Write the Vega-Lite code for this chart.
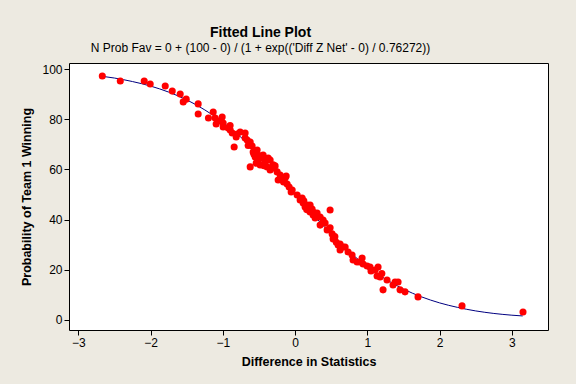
{
  "$schema": "https://vega.github.io/schema/vega-lite/v6.json",
  "width": 479,
  "height": 267,
  "autosize": {"type": "none"},
  "padding": {"left": 69, "top": 63, "right": 28, "bottom": 54},
  "background": "#EDEAE1",
  "title": {
    "text": "Fitted Line Plot",
    "subtitle": "N Prob Fav = 0 + (100 - 0) / (1 + exp(('Diff Z Net' - 0) / 0.76272))",
    "font": "Liberation Sans",
    "fontSize": 14,
    "fontWeight": "bold",
    "color": "#000000",
    "subtitleFont": "Liberation Sans",
    "subtitleFontSize": 12,
    "subtitleColor": "#000000",
    "subtitlePadding": 3,
    "anchor": "middle",
    "frame": "group",
    "dx": -48,
    "offset": 9
  },
  "config": {
    "view": {"fill": "white", "stroke": "black", "strokeWidth": 1},
    "axis": {
      "grid": false,
      "domain": false,
      "tickColor": "black",
      "tickSize": 5,
      "labelFont": "Liberation Sans",
      "labelFontSize": 12,
      "labelColor": "#000000",
      "labelPadding": 2,
      "titleFont": "Liberation Sans",
      "titleFontSize": 12.5,
      "titleFontWeight": "bold",
      "titleColor": "#000000"
    }
  },
  "datasets": {
    "pts": [
      {"x": -2.669, "y": 97.2}, {"x": -2.42, "y": 95.2}, {"x": -2.089, "y": 95.2}, {"x": -2.006, "y": 94.0},
      {"x": -1.798, "y": 93.2}, {"x": -1.701, "y": 91.2}, {"x": -1.591, "y": 90.0}, {"x": -1.508, "y": 88.0},
      {"x": -1.549, "y": 86.9}, {"x": -1.342, "y": 86.1}, {"x": -1.342, "y": 82.1}, {"x": -1.134, "y": 82.9},
      {"x": -1.107, "y": 80.5}, {"x": -1.093, "y": 78.1}, {"x": -1.01, "y": 80.9}, {"x": -0.996, "y": 78.5},
      {"x": -0.996, "y": 76.9}, {"x": -0.899, "y": 75.7}, {"x": -0.871, "y": 74.5}, {"x": -0.844, "y": 68.9},
      {"x": -0.761, "y": 74.9}, {"x": -0.692, "y": 74.5}, {"x": -0.692, "y": 72.5}, {"x": -0.622, "y": 70.9},
      {"x": -0.595, "y": 69.3}, {"x": -0.622, "y": 61.0}, {"x": -0.581, "y": 66.9}, {"x": -0.553, "y": 64.9},
      {"x": -0.512, "y": 63.7}, {"x": -0.484, "y": 61.8}, {"x": -0.415, "y": 62.9}, {"x": -0.387, "y": 61.0},
      {"x": -0.373, "y": 64.5}, {"x": -0.346, "y": 59.8}, {"x": -0.304, "y": 61.8}, {"x": -0.249, "y": 59.0},
      {"x": -0.235, "y": 55.8}, {"x": -0.539, "y": 62.5}, {"x": -0.456, "y": 64.5}, {"x": -0.277, "y": 61.4},
      {"x": -0.18, "y": 55.8}, {"x": -0.138, "y": 56.6}, {"x": -0.111, "y": 54.2}, {"x": -0.083, "y": 53.0},
      {"x": -0.041, "y": 51.8}, {"x": -0.055, "y": 51.0}, {"x": 0.111, "y": 46.6}, {"x": 0.138, "y": 45.0},
      {"x": 0.18, "y": 43.8}, {"x": 0.207, "y": 43.0}, {"x": 0.249, "y": 41.8}, {"x": 0.304, "y": 42.6},
      {"x": 0.346, "y": 41.0}, {"x": 0.484, "y": 43.8}, {"x": 0.346, "y": 37.8}, {"x": 0.387, "y": 39.8},
      {"x": 0.443, "y": 35.9}, {"x": 0.484, "y": 36.7}, {"x": 0.512, "y": 34.3}, {"x": 0.526, "y": 32.3},
      {"x": 0.595, "y": 29.9}, {"x": 0.622, "y": 30.3}, {"x": 0.664, "y": 29.1}, {"x": 0.692, "y": 29.1},
      {"x": 0.788, "y": 25.9}, {"x": 0.802, "y": 23.9}, {"x": 0.858, "y": 23.1}, {"x": 0.927, "y": 24.7},
      {"x": 0.941, "y": 22.3}, {"x": 0.996, "y": 21.5}, {"x": 1.037, "y": 21.1}, {"x": 1.107, "y": 19.9},
      {"x": 1.148, "y": 21.1}, {"x": 1.134, "y": 17.5}, {"x": 1.176, "y": 17.1}, {"x": 1.272, "y": 15.9},
      {"x": 1.217, "y": 12.0}, {"x": 1.355, "y": 13.9}, {"x": 1.425, "y": 15.1}, {"x": 1.452, "y": 12.0},
      {"x": 1.521, "y": 11.2}, {"x": 1.701, "y": 9.2}, {"x": 2.31, "y": 5.6}, {"x": 3.154, "y": 3.2},
      {"x": 0.069, "y": 47.8}, {"x": 0.097, "y": 48.6}, {"x": 0.166, "y": 45.8}, {"x": 0.235, "y": 44.2},
      {"x": 0.277, "y": 40.6}, {"x": 0.028, "y": 49.8}, {"x": -0.124, "y": 57.4}, {"x": -0.207, "y": 57.8},
      {"x": -0.443, "y": 65.7}, {"x": -0.526, "y": 67.7}, {"x": -0.664, "y": 71.7}, {"x": -0.816, "y": 72.9},
      {"x": -0.927, "y": 76.5}, {"x": -1.065, "y": 79.3}, {"x": -0.802, "y": 74.1}, {"x": -0.346, "y": 63.7},
      {"x": 0.207, "y": 45.8}, {"x": 0.415, "y": 38.6}, {"x": 0.622, "y": 27.9}, {"x": 0.733, "y": 27.1},
      {"x": 0.899, "y": 23.1}, {"x": 1.383, "y": 15.1},
      {"x": -0.65, "y": 69.5}, {"x": -0.57, "y": 66.0}, {"x": -0.5, "y": 65.5}, {"x": -0.43, "y": 61.5},
      {"x": -0.32, "y": 60.5}, {"x": -0.2, "y": 56.0}, {"x": -0.16, "y": 55.0}, {"x": 0.12, "y": 47.5},
      {"x": 0.16, "y": 44.0}, {"x": 0.26, "y": 42.8}, {"x": 0.3, "y": 41.2}, {"x": 0.55, "y": 33.2},
      {"x": 0.57, "y": 31.0}, {"x": 1.05, "y": 19.5}, {"x": 1.2, "y": 18.5}, {"x": -0.9, "y": 77.5},
      {"x": -1.2, "y": 80.5}
    ],
    "fit": [
      {"x": -2.67, "y": 97.1}, {"x": -2.5, "y": 96.4}, {"x": -2.25, "y": 95.0}, {"x": -2.0, "y": 93.2},
      {"x": -1.75, "y": 90.8}, {"x": -1.5, "y": 87.7}, {"x": -1.25, "y": 83.7}, {"x": -1.0, "y": 78.8},
      {"x": -0.75, "y": 72.8}, {"x": -0.5, "y": 65.8}, {"x": -0.25, "y": 58.1}, {"x": 0.0, "y": 50.0},
      {"x": 0.25, "y": 41.9}, {"x": 0.5, "y": 34.2}, {"x": 0.75, "y": 27.2}, {"x": 1.0, "y": 21.2},
      {"x": 1.25, "y": 16.3}, {"x": 1.5, "y": 12.3}, {"x": 1.75, "y": 9.2}, {"x": 2.0, "y": 6.8},
      {"x": 2.25, "y": 5.0}, {"x": 2.5, "y": 3.6}, {"x": 2.75, "y": 2.6}, {"x": 3.0, "y": 1.9},
      {"x": 3.15, "y": 1.6}
    ]
  },
  "encoding": {
    "x": {
      "field": "x", "type": "quantitative",
      "scale": {"domain": [-3.13, 3.5], "nice": false, "zero": false},
      "axis": {"values": [-3, -2, -1, 0, 1, 2, 3], "title": "Difference in Statistics", "titlePadding": 7}
    },
    "y": {
      "field": "y", "type": "quantitative",
      "scale": {"domain": [-4, 102.4], "nice": false, "zero": false},
      "axis": {"values": [0, 20, 40, 60, 80, 100], "title": "Probability of Team 1 Winning", "titlePadding": 8}
    }
  },
  "layer": [
    {
      "data": {"name": "fit"},
      "mark": {"type": "line", "color": "#000080", "strokeWidth": 1, "interpolate": "monotone"}
    },
    {
      "data": {"name": "pts"},
      "mark": {"type": "circle", "color": "#FF0000", "opacity": 1, "size": 50}
    }
  ]
}
